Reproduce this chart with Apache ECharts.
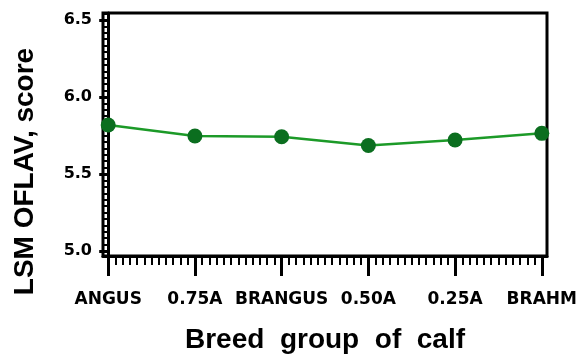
<!DOCTYPE html>
<html>
<head>
<meta charset="utf-8">
<script src="https://cdn.jsdelivr.net/npm/echarts@6/dist/echarts.min.js"></script>
<style>html,body{margin:0;padding:0;background:#fff;}#c{width:587px;height:355px;}</style>
</head>
<body>
<div id="c"></div>
<script>
const categories = ['ANGUS', '0.75A', 'BRANGUS', '0.50A', '0.25A', 'BRAHM'];
const values = [5.818, 5.747, 5.742, 5.685, 5.721, 5.764];
const yTicks = [5.0, 5.5, 6.0, 6.5];
const xTicks = [0, 1, 2, 3, 4, 5];

const chart = echarts.init(document.getElementById('c'), null, {renderer: 'canvas'});
chart.setOption({
  animation: false,
  backgroundColor: '#fff',
  grid: {left: 103, right: 40, top: 13, bottom: 99, outerBoundsMode: 'none', containLabel: false,
    show: true, borderColor: '#000', borderWidth: 3, backgroundColor: 'transparent'},
  xAxis: {
    type: 'value', min: -0.06, max: 5.06, splitNumber: 5,
    name: 'Breed  group  of  calf', nameLocation: 'middle', nameGap: 70,
    nameTextStyle: {fontFamily: 'Liberation Sans', fontWeight: 'bold', fontSize: 28, color: '#000', verticalAlign: 'top'},
    axisLine: {show: true, lineStyle: {color: '#000', width: 3}},
    axisTick: {show: true, customValues: xTicks, length: 20, lineStyle: {color: '#000', width: 3}},
    minorTick: {show: true, splitNumber: 12, length: 9, lineStyle: {color: '#000', width: 2}},
    axisLabel: {customValues: xTicks, margin: 35, fontFamily: 'DejaVu Sans', fontWeight: 'bold', fontSize: 17, color: '#000',
      formatter: v => categories[Math.round(v)] || ''},
    splitLine: {show: false}
  },
  yAxis: {
    type: 'value', min: 4.968, max: 6.545, splitNumber: 3,
    name: 'LSM OFLAV, score', nameLocation: 'middle', nameGap: 64, nameRotate: 90,
    nameTextStyle: {fontFamily: 'Liberation Sans', fontWeight: 'bold', fontSize: 28, color: '#000', padding: [0, 74, 0, 0]},
    axisLine: {show: true, lineStyle: {color: '#000', width: 3}},
    axisTick: {show: true, customValues: yTicks, length: 9, lineStyle: {color: '#000', width: 3}},
    minorTick: {show: true, splitNumber: 12, length: 5, lineStyle: {color: '#000', width: 2}},
    axisLabel: {customValues: yTicks, margin: 11, fontFamily: 'DejaVu Sans', fontWeight: 'bold', fontSize: 16, color: '#000',
      formatter: v => v.toFixed(1)},
    splitLine: {show: false}
  },
  series: [{
    type: 'line',
    data: values.map((v, i) => [i, v]),
    symbol: 'circle', symbolSize: 15,
    lineStyle: {color: '#1c9a28', width: 2.5},
    itemStyle: {color: '#0b6e1f'},
    clip: false
  }]
});
</script>
</body>
</html>
